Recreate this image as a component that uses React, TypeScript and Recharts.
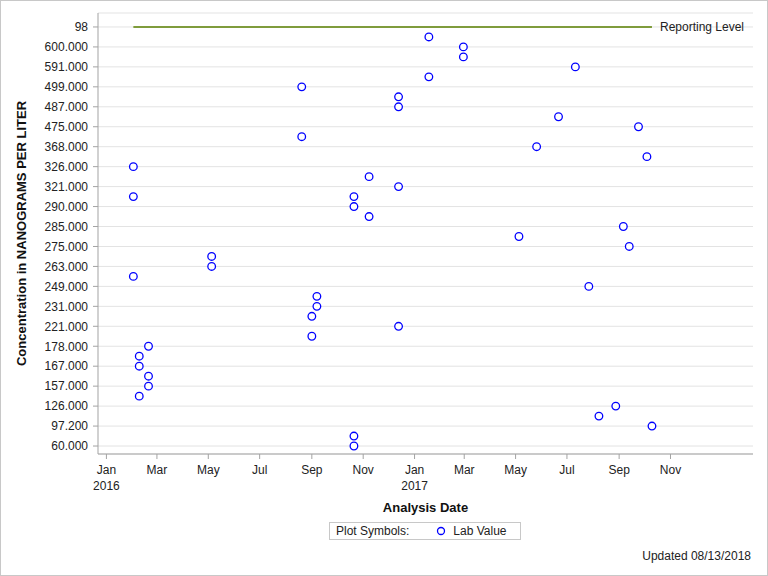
import { ScatterChart, Scatter, XAxis, YAxis, CartesianGrid } from "recharts";

// y categories, top to bottom; only every other one gets a label on the axis
const levels = [
  "98", "610.000", "600.000", "595.000", "591.000", "543.000", "499.000", "493.000",
  "487.000", "481.000", "475.000", "418.000", "368.000", "345.000", "326.000", "324.000",
  "321.000", "305.000", "290.000", "288.000", "285.000", "280.000", "275.000", "269.000",
  "263.000", "256.000", "249.000", "240.000", "231.000", "226.000", "221.000", "199.000",
  "178.000", "172.000", "167.000", "162.000", "157.000", "141.000", "126.000", "112.000",
  "97.200", "78.000", "60.000",
];

const sampleDates = [
  "2016-02-02", "2016-02-02", "2016-02-02",
  "2016-02-09", "2016-02-09", "2016-02-09",
  "2016-02-20", "2016-02-20", "2016-02-20",
  "2016-05-05", "2016-05-05",
  "2016-08-20", "2016-08-20",
  "2016-09-01", "2016-09-01",
  "2016-09-07", "2016-09-07",
  "2016-10-21", "2016-10-21", "2016-10-21", "2016-10-21",
  "2016-11-08", "2016-11-08",
  "2016-12-13", "2016-12-13", "2016-12-13", "2016-12-13",
  "2017-01-18", "2017-01-18",
  "2017-02-28", "2017-02-28",
  "2017-05-05", "2017-05-26", "2017-06-21", "2017-07-11", "2017-07-27",
  "2017-08-08", "2017-08-28", "2017-09-06", "2017-09-13", "2017-09-24",
  "2017-10-04", "2017-10-10",
];

const sampleValues = [
  "326.000", "305.000", "256.000",
  "172.000", "167.000", "141.000",
  "178.000", "162.000", "157.000",
  "269.000", "263.000",
  "499.000", "418.000",
  "226.000", "199.000",
  "240.000", "231.000",
  "305.000", "290.000", "78.000", "60.000",
  "324.000", "288.000",
  "493.000", "487.000", "321.000", "221.000",
  "610.000", "543.000",
  "600.000", "595.000",
  "280.000", "368.000", "481.000", "591.000", "249.000",
  "112.000", "126.000", "285.000", "275.000", "475.000",
  "345.000", "97.200",
];

const reportingLevel = "98";
const reportingSpan = ["2016-02-02", "2017-10-10"];

const monthTicks = [
  "2016-01-01", "2016-03-01", "2016-05-01", "2016-07-01", "2016-09-01", "2016-11-01",
  "2017-01-01", "2017-03-01", "2017-05-01", "2017-07-01", "2017-09-01", "2017-11-01",
];
const MONTHS = ["Jan", "Feb", "Mar", "Apr", "May", "Jun", "Jul", "Aug", "Sep", "Oct", "Nov", "Dec"];

const ts = (s: string) => Date.parse(s + "T00:00:00Z");
const X_DOMAIN = [ts("2015-12-22"), ts("2018-02-07")];
const Y_DOMAIN = [-1.4, levels.length - 1 + 0.8];

const labData = sampleDates.map((d, i) => ({ x: ts(d), y: levels.indexOf(sampleValues[i]) }));
const reportData = reportingSpan.map((d, i) => ({
  x: ts(d),
  y: levels.indexOf(reportingLevel),
  label: i === reportingSpan.length - 1 ? "Reporting Level" : "",
}));
const yTicks = levels.map((_, i) => i).filter((i) => i % 2 === 0);

const FONT = "'Liberation Sans', Arial, sans-serif";
const FRAME = "#a3a3a3";

const DateTick = ({ x, y, payload }: any) => {
  const d = new Date(payload.value);
  const m = d.getUTCMonth();
  return (
    <g transform={`translate(${x},${y})`} fontFamily={FONT} fontSize={12} fill="#222">
      <text x={0} y={13} textAnchor="middle">{MONTHS[m]}</text>
      {m === 0 && <text x={0} y={29} textAnchor="middle">{d.getUTCFullYear()}</text>}
    </g>
  );
};

const LabDot = (p: any) => (
  <circle cx={p.cx} cy={p.cy} r={3.8} fill="#fff" stroke="#0000ff" strokeWidth={1.3} />
);

const ReportShape = (p: any) =>
  p.payload.label ? (
    <text x={p.cx + 8} y={p.cy} dy="0.35em" fontFamily={FONT} fontSize={12} fill="#222">
      {p.payload.label}
    </text>
  ) : (
    <g />
  );

export default function App() {
  return (
    <div style={{ position: "relative", width: 768, height: 576, background: "#fff", fontFamily: FONT }}>
      <style>{"body{margin:0}"}</style>
      <ScatterChart width={768} height={576} margin={{ top: 13, right: 15, left: 0, bottom: 82 }}>
        <CartesianGrid vertical={false} stroke="#e3e3e3" />
        <XAxis
          dataKey="x"
          type="number"
          domain={X_DOMAIN}
          ticks={monthTicks.map(ts)}
          interval={0}
          tick={<DateTick />}
          tickSize={5}
          height={40}
          stroke={FRAME}
          label={{ value: "Analysis Date", position: "bottom", offset: 9, fill: "#111", fontSize: 13, fontWeight: "bold" }}
        />
        <XAxis xAxisId="top" orientation="top" type="number" domain={X_DOMAIN} tick={false} tickLine={false} height={0} stroke={FRAME} />
        <YAxis
          dataKey="y"
          type="number"
          reversed
          domain={Y_DOMAIN}
          ticks={yTicks}
          interval={0}
          tickFormatter={(v: number) => levels[v]}
          tick={{ fontSize: 12, fill: "#222", fontFamily: FONT }}
          tickSize={5}
          tickMargin={5}
          width={98}
          stroke={FRAME}
          label={({ viewBox }: any) => (
            <text
              x={21}
              y={viewBox.y + viewBox.height / 2}
              transform={`rotate(-90 21 ${viewBox.y + viewBox.height / 2})`}
              textAnchor="middle"
              dy="0.35em"
              fontFamily={FONT}
              fontSize={13}
              fontWeight="bold"
              fill="#111"
            >
              Concentration in NANOGRAMS PER LITER
            </text>
          )}
        />
        <YAxis yAxisId="right" orientation="right" type="number" domain={Y_DOMAIN} tick={false} tickLine={false} width={0} stroke={FRAME} />
        <Scatter
          data={reportData}
          line={{ stroke: "#7f9c3c", strokeWidth: 2 }}
          shape={ReportShape}
          isAnimationActive={false}
        />
        <Scatter data={labData} shape={LabDot} isAnimationActive={false} />
      </ScatterChart>
      <div
        style={{
          position: "absolute",
          left: 329,
          top: 522,
          width: 192,
          height: 18,
          border: "1px solid #c8c8c8",
          fontSize: 12,
          color: "#222",
          display: "flex",
          alignItems: "center",
          boxSizing: "border-box",
        }}
      >
        <span style={{ marginLeft: 6 }}>Plot Symbols:</span>
        <svg width={10} height={10} style={{ marginLeft: 27 }}>
          <circle cx={5} cy={5} r={3.5} fill="#fff" stroke="#0000ff" strokeWidth={1.3} />
        </svg>
        <span style={{ marginLeft: 7 }}>Lab Value</span>
      </div>
      <div style={{ position: "absolute", right: 17, top: 549, fontSize: 12, color: "#222" }}>Updated 08/13/2018</div>
      <div
        style={{
          position: "absolute",
          inset: 0,
          border: "1px solid #c8c8c8",
          pointerEvents: "none",
        }}
      />
    </div>
  );
}
